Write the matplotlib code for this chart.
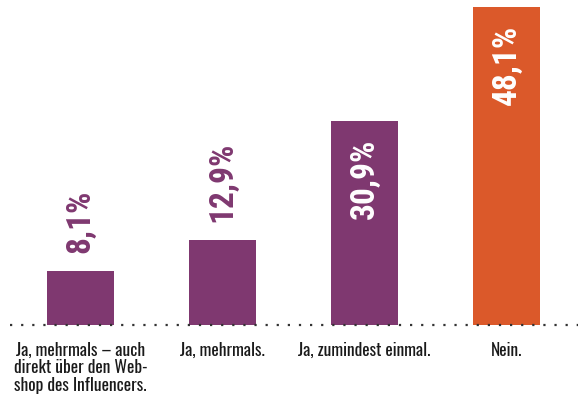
import matplotlib.pyplot as plt

# Data
categories = ['Ja, mehrmals – auch\ndirekt über den Web-\nshop des Influencers.',
              'Ja, mehrmals.',
              'Ja, zumindest einmal.',
              'Nein.']
values = [8.1, 12.9, 30.9, 48.1]
labels = ['8,1%', '12,9%', '30,9%', '48,1%']
inside = [False, False, True, True]

purple = '#7f3870'
orange = '#db592a'
colors = [purple, purple, purple, orange]

plt.rcParams['font.family'] = ['Oswald', 'Barlow Condensed', 'DejaVu Sans']
value_font = ['Roboto Condensed', 'Barlow Condensed', 'DejaVu Sans']

fig = plt.figure(figsize=(5.8, 4.01), dpi=100)
ax = fig.add_axes([9.5 / 580, 76 / 401, 568 / 580, 318 / 401])

x = range(len(values))
ax.bar(x, values, width=0.47, color=colors, zorder=2)
ax.set_xlim(-0.5, 3.5)
ax.set_ylim(0, 48.1)

# value labels (rotated)
for i, v in enumerate(values):
    if inside[i]:
        ax.annotate(labels[i], (i, v), xytext=(0, -13), textcoords='offset points',
                    rotation=90, ha='center', va='top', color='white',
                    fontsize=24, fontweight='bold', family=value_font)
    else:
        ax.annotate(labels[i], (i, v), xytext=(0, 13), textcoords='offset points',
                    rotation=90, ha='center', va='bottom', color=purple,
                    fontsize=24, fontweight='bold', family=value_font)

# dotted baseline
ax.axhline(0, color='#333333', linestyle=(0, (1, 4)), linewidth=1.6, zorder=3,
           clip_on=False)

for i, c in enumerate(categories):
    ax.annotate(c, (i, 0), xytext=(0, -12), textcoords='offset points',
                ha='center', va='top', fontsize=12.5, color='#1a1a1a',
                linespacing=1.05)

ax.axis('off')
fig.savefig('out.png', dpi=100)
